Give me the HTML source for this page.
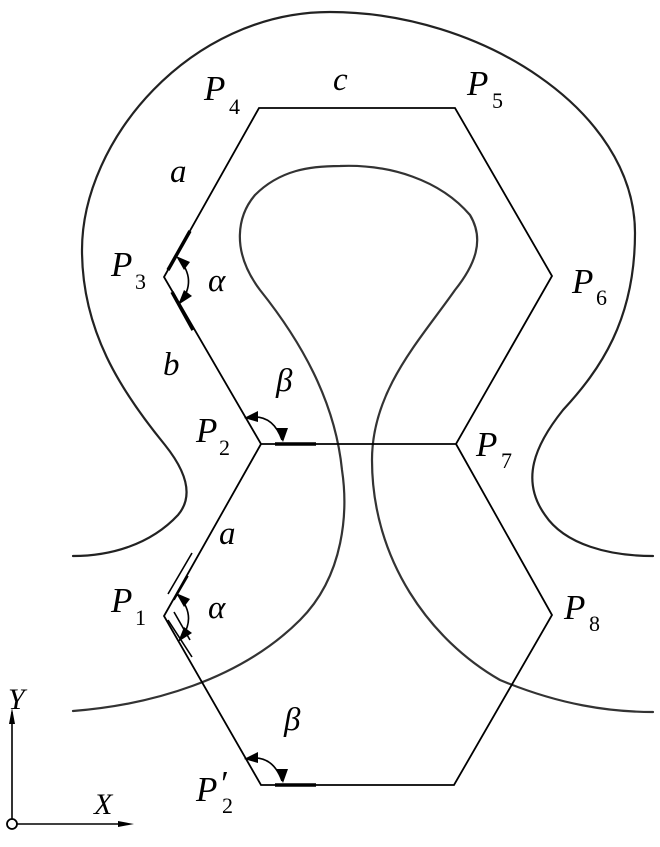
<!DOCTYPE html>
<html><head><style>html,body{margin:0;padding:0;background:#fff}svg{display:block}</style></head><body>
<svg width="660" height="847" viewBox="0 0 660 847" xmlns="http://www.w3.org/2000/svg">
<g fill="none" stroke="#222" stroke-width="2.2" stroke-linecap="round">
<path d="M73,556 C110,556 150,545 178,515 C195,495 185,470 165,445 C120,390 82,330 82,250 C82,140 190,12 330,12 C480,12 635,110 635,233 C635,320 600,370 563,410 C535,445 520,480 545,515 C565,545 610,556 653,556"/>
<path d="M73,711 C150,705 240,680 300,620 C345,575 348,510 342,470 C335,400 300,340 260,290 C230,250 238,215 255,195 C280,170 310,166 340,166 C390,164 440,180 470,215 C485,240 475,265 455,290 C420,340 372,390 372,460 C372,560 430,640 500,680 C560,705 610,712 653,712" stroke="#333"/>
</g>
<g fill="none" stroke="#000" stroke-width="1.8">
<polygon points="259,108 455,108 552,276 456,444 261,444 164,277"/>
<polyline points="261,444 164,616 261,785 454,785 552,615 456,444"/>
</g>
<g stroke="#000" stroke-width="3.5" fill="none">
<line x1="168" y1="270" x2="190" y2="231"/>
<line x1="172" y1="292" x2="193" y2="330"/>
<line x1="275" y1="444" x2="316" y2="444"/>
<line x1="275" y1="785" x2="316" y2="785"/>
</g>
<g stroke="#000" stroke-width="1.6" fill="none">
<line x1="168" y1="594" x2="192" y2="553"/><line x1="174" y1="600" x2="188" y2="576"/>
<line x1="168" y1="620" x2="192" y2="657"/><line x1="174" y1="612" x2="190" y2="640"/>
<path d="M178,258 Q198,280 180,303"/>
<path d="M178,595 Q198,617 180,640"/>
<path d="M246,418 Q272,412 282,440"/>
<path d="M246,759 Q272,753 282,781"/>
</g>
<g fill="#000">
<polygon points="176,256 190,262 184,270"/><polygon points="178,305 184,290 192,296"/>
<polygon points="176,593 190,599 184,607"/><polygon points="178,642 184,627 192,633"/>
<polygon points="244,418 258,411 258,422"/><polygon points="283,442 276,428 288,428"/>
<polygon points="244,759 258,752 258,763"/><polygon points="283,783 276,769 288,769"/>
</g>
<g stroke="#000" stroke-width="1.6" fill="none">
<line x1="12" y1="824" x2="12" y2="712"/><line x1="17" y1="824" x2="125" y2="824"/>
</g>
<circle cx="12" cy="824" r="5" fill="#fff" stroke="#000" stroke-width="1.8"/>
<polygon points="12,708 9,724 15,724" fill="#000"/><polygon points="134,824 118,821 118,827" fill="#000"/>
<g style="font-family:'Liberation Serif',serif" font-size="35" fill="#000">
<g font-style="italic">
<text x="204" y="100">P</text><text x="111" y="276">P</text><text x="196" y="442">P</text>
<text x="467" y="95">P</text><text x="572" y="293">P</text><text x="476" y="456">P</text>
<text x="111" y="612">P</text><text x="564" y="619">P</text><text x="196" y="801">P</text>
<text x="333" y="90" font-size="33">c</text><text x="170" y="182" font-size="33">a</text><text x="208" y="291" font-size="33">α</text>
<text x="163" y="375" font-size="33">b</text><text x="276" y="391" font-size="33">β</text><text x="219" y="544" font-size="33">a</text>
<text x="208" y="618" font-size="33">α</text><text x="284" y="730" font-size="33">β</text>
<text x="8" y="709" font-size="30">Y</text><text x="94" y="814" font-size="30">X</text>
<text x="219" y="795">′</text>
</g>
<g font-size="22">
<text x="229" y="114">4</text><text x="135" y="289">3</text><text x="219" y="455">2</text>
<text x="492" y="108">5</text><text x="596" y="305">6</text><text x="501" y="468">7</text>
<text x="135" y="625">1</text><text x="589" y="631">8</text><text x="222" y="813">2</text>
</g>
</g>
</svg>
</body></html>
